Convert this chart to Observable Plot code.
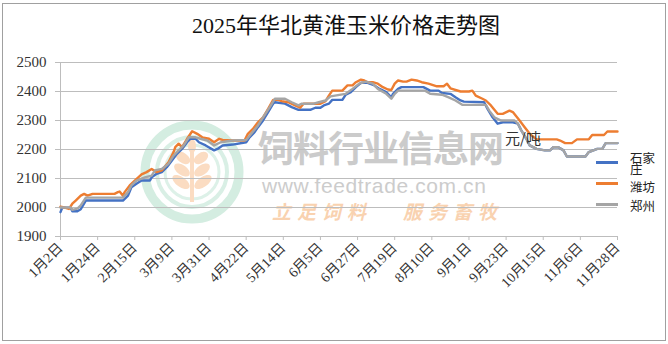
<!DOCTYPE html>
<html><head><meta charset="utf-8">
<script src="https://cdn.jsdelivr.net/npm/d3@7"></script>
<script src="https://cdn.jsdelivr.net/npm/@observablehq/plot@0.6"></script>
<style>
body{margin:0;background:#fff;}
#wrap{position:relative;width:668px;height:344px;overflow:hidden;font-family:"Liberation Serif","Noto Sans CJK SC",serif;}
#border{position:absolute;left:2px;top:3px;width:662px;height:336px;border:1px solid #a0a0a0;}
#title{position:absolute;left:12px;top:13px;width:668px;text-align:center;font-size:22px;color:#111;line-height:1.2;}
.wm{position:absolute;white-space:nowrap;line-height:1;}
#chart{position:absolute;left:0;top:0;}
#unit{position:absolute;left:505px;top:130px;font-size:15px;line-height:1;color:#333;font-family:"Noto Sans CJK SC",sans-serif;}
.leg{position:absolute;left:630px;width:28px;font-size:12.5px;line-height:11px;color:#222;font-family:"Noto Sans CJK SC",sans-serif;}
.legline{position:absolute;left:596px;width:22px;height:2.5px;}
</style></head><body>
<div id="wrap">
  <div id="border"></div>
  <svg class="wm" style="left:0;top:0" width="668" height="344">
    <g transform="translate(192,172)">
      <circle r="47" fill="none" stroke="#d4ede1" stroke-width="9"/>
      <circle r="35" fill="none" stroke="#d9efe5" stroke-width="4"/>
      <circle r="27" fill="none" stroke="#ddf1e8" stroke-width="3"/>
      <rect x="-2" y="-28" width="4" height="58" fill="#fbdcc2"/>
      <ellipse cx="-9" cy="-14" rx="8" ry="5" transform="rotate(35,-9,-14)" fill="#fbdcc2"/>
      <ellipse cx="9" cy="-14" rx="8" ry="5" transform="rotate(-35,9,-14)" fill="#fbdcc2"/>
      <ellipse cx="-10" cy="-2" rx="9" ry="5" transform="rotate(35,-10,-2)" fill="#fbdcc2"/>
      <ellipse cx="10" cy="-2" rx="9" ry="5" transform="rotate(-35,10,-2)" fill="#fbdcc2"/>
      <ellipse cx="-11" cy="10" rx="10" ry="5" transform="rotate(35,-11,10)" fill="#fbdcc2"/>
      <ellipse cx="11" cy="10" rx="10" ry="5" transform="rotate(-35,11,10)" fill="#fbdcc2"/>
      <ellipse cx="0" cy="-26" rx="4" ry="7" fill="#fbdcc2"/>
    </g>
  </svg>
  <div class="wm" style="left:258px;top:128px;font-size:36px;font-weight:bold;color:#cbcbcb;font-family:'Noto Sans CJK SC',sans-serif;letter-spacing:-1px;">饲料行业信息网</div>
  <div class="wm" style="left:262px;top:175px;font-size:21px;color:#cccccc;font-family:'Liberation Sans',sans-serif;letter-spacing:0.6px;">www.feedtrade.com.cn</div>
  <div class="wm" style="left:272px;top:201px;font-size:19px;font-weight:bold;font-style:italic;color:#f9d2b0;font-family:'Noto Sans CJK SC',sans-serif;letter-spacing:6px;">立足饲料&nbsp;&nbsp;&nbsp;服务畜牧</div>
  <div id="chart"></div>
  <div id="title">2025年华北黄淮玉米价格走势图</div>
  <div id="unit">元/吨</div>
  <div class="legline" style="top:161px;background:#4472c4"></div>
  <div class="legline" style="top:182px;background:#ed7d31"></div>
  <div class="legline" style="top:203px;background:#a5a5a5"></div>
  <div class="leg" style="top:152px">石家庄</div>
  <div class="leg" style="top:181px">潍坊</div>
  <div class="leg" style="top:200px">郑州</div>
</div>
<script>
const cities = ["石家庄", "潍坊", "郑州"];
const colors = ["#4472c4", "#ed7d31", "#a5a5a5"];
const yTicks = [1900, 2000, 2100, 2200, 2300, 2400, 2500];
const xTickLabels = ["1月2日","1月24日","2月15日","3月9日","3月31日","4月22日","5月14日","6月5日","6月27日","7月19日","8月10日","9月1日","9月23日","10月15日","11月6日","11月28日"];

const shijiazhuang = [
  ["01-02",1984],["01-03",1999],["01-08",1999],["01-09",1987],["01-12",1987],["01-14",1994],["01-17",2024],
  ["02-08",2024],["02-11",2041],["02-13",2070],["02-16",2082],["02-19",2093],["02-24",2093],["02-25",2104],
  ["02-28",2116],["03-03",2122],["03-06",2139],["03-09",2162],["03-12",2185],["03-15",2202],["03-18",2225],
  ["03-20",2237],["03-23",2237],["03-25",2225],["03-29",2214],["04-03",2197],["04-05",2202],["04-08",2214],
  ["04-14",2217],["04-22",2225],["04-24",2242],["04-27",2260],["04-29",2277],["05-02",2300],["05-05",2329],
  ["05-08",2358],["05-09",2363],["05-15",2358],["05-19",2346],["05-23",2337],["05-30",2337],["06-02",2344],
  ["06-05",2344],["06-07",2352],["06-10",2358],["06-12",2371],["06-18",2371],["06-20",2389],["06-23",2398],
  ["06-26",2415],["06-29",2430],["07-03",2430],["07-07",2421],["07-10",2409],["07-14",2398],["07-17",2380],
  ["07-18",2392],["07-21",2409],["07-23",2415],["08-05",2415],["08-09",2403],["08-14",2403],["08-16",2395],
  ["08-21",2392],["08-24",2380],["08-27",2369],["08-29",2365],["09-10",2363],["09-12",2340],["09-15",2311],
  ["09-18",2289],["09-21",2294],["09-27",2294],["09-30",2289],["10-02",2266],["10-05",2237],["10-07",2214],
  ["10-11",2202],["10-16",2197],["10-19",2197],["10-21",2208],["10-24",2208],["10-27",2197],["10-29",2176],
  ["11-09",2176],["11-11",2191],["11-16",2202],["11-19",2202],["11-21",2222],["11-28",2222]
];
const weifang = [
  ["01-02",2003],["01-05",1999],["01-07",1995],["01-09",2013],["01-11",2024],["01-14",2041],["01-16",2047],
  ["01-18",2041],["01-21",2047],["02-03",2047],["02-05",2053],["02-06",2055],["02-08",2041],["02-09",2053],
  ["02-12",2076],["02-15",2093],["02-19",2114],["02-22",2122],["02-25",2133],["02-28",2122],["03-03",2128],
  ["03-07",2156],["03-10",2191],["03-11",2208],["03-13",2220],["03-15",2208],["03-18",2237],["03-21",2263],
  ["03-24",2254],["03-27",2242],["03-31",2237],["04-03",2225],["04-06",2237],["04-08",2233],["04-14",2231],
  ["04-21",2231],["04-23",2254],["04-26",2271],["04-29",2294],["05-02",2311],["05-05",2340],["05-08",2371],
  ["05-11",2371],["05-13",2367],["05-17",2363],["05-21",2352],["05-24",2344],["05-26",2358],["06-05",2358],
  ["06-08",2367],["06-10",2386],["06-12",2403],["06-18",2403],["06-21",2421],["06-24",2421],["06-26",2432],
  ["06-29",2441],["07-01",2438],["07-03",2432],["07-06",2432],["07-09",2427],["07-12",2415],["07-15",2407],
  ["07-17",2405],["07-19",2427],["07-21",2438],["07-24",2434],["07-26",2434],["07-29",2441],["08-01",2438],
  ["08-04",2432],["08-08",2427],["08-13",2418],["08-17",2418],["08-19",2427],["08-21",2411],["08-27",2400],
  ["09-01",2400],["09-03",2403],["09-05",2386],["09-09",2375],["09-11",2369],["09-14",2352],["09-18",2323],
  ["09-21",2323],["09-25",2334],["09-27",2329],["10-01",2300],["10-04",2277],["10-07",2254],["10-11",2235],
  ["10-23",2235],["10-25",2231],["10-28",2222],["11-01",2222],["11-04",2235],["11-11",2235],["11-13",2250],
  ["11-20",2250],["11-22",2262],["11-28",2262]
];
const zhengzhou = [
  ["01-02",2000],["01-08",2000],["01-09",1992],["01-12",1996],["01-14",2007],["01-17",2034],["02-08",2034],
  ["02-11",2053],["02-13",2076],["02-16",2093],["02-21",2104],["02-25",2110],["02-27",2128],["03-03",2133],
  ["03-07",2151],["03-10",2179],["03-13",2197],["03-16",2214],["03-19",2242],["03-23",2242],["03-26",2237],
  ["03-30",2231],["04-03",2214],["04-07",2225],["04-14",2231],["04-22",2233],["04-25",2254],["04-29",2283],
  ["05-02",2311],["05-06",2346],["05-09",2375],["05-15",2375],["05-19",2363],["05-23",2352],["05-25",2358],
  ["06-01",2358],["06-04",2363],["06-08",2369],["06-11",2383],["06-18",2390],["06-20",2392],["06-24",2409],
  ["06-28",2427],["07-02",2434],["07-06",2427],["07-09",2409],["07-14",2392],["07-17",2375],["07-19",2392],
  ["07-21",2403],["08-06",2403],["08-09",2392],["08-16",2389],["08-20",2380],["08-24",2369],["08-28",2354],
  ["09-11",2354],["09-13",2334],["09-16",2311],["09-20",2300],["09-28",2300],["09-30",2289],["10-02",2266],
  ["10-05",2237],["10-07",2214],["10-11",2202],["10-16",2197],["10-19",2197],["10-21",2208],["10-24",2208],
  ["10-27",2197],["10-29",2176],["11-09",2176],["11-11",2191],["11-16",2202],["11-19",2202],["11-21",2222],
  ["11-28",2222]
];

const parse = d3.utcParse("%Y-%m-%d");
const rows = [];
[[cities[0], shijiazhuang], [cities[1], weifang], [cities[2], zhengzhou]].forEach(([city, arr]) => {
  arr.forEach(([d, v]) => rows.push({city, date: parse("2025-" + d), price: v}));
});
const xTicks = xTickLabels.map(s => {
  const [m, d] = s.match(/\d+/g).map(Number);
  return new Date(Date.UTC(2025, m - 1, d));
});
const fmt = d => `${d.getUTCMonth() + 1}月${d.getUTCDate()}日`;
const xDomain = [xTicks[0], xTicks[xTicks.length - 1]];

const chart = Plot.plot({
  width: 668, height: 344,
  marginLeft: 60, marginRight: 51, marginTop: 62, marginBottom: 108,
  style: {background: "transparent", fontFamily: "'Liberation Serif','Noto Sans CJK SC',serif", color: "#333", overflow: "visible"},
  x: {type: "utc", domain: xDomain, label: null},
  y: {domain: [1900, 2500], label: null},
  color: {domain: cities, range: colors},
  marks: [
    Plot.gridY(yTicks, {stroke: "#bdbdbd", strokeOpacity: 1, strokeWidth: 1}),
    Plot.ruleX([xDomain[0]], {stroke: "#bdbdbd", strokeWidth: 1}),
    Plot.axisY(yTicks, {label: null, tickSize: 5, tickPadding: 9, stroke: "#bdbdbd", fontSize: 15, fill: "#333", tickFormat: d => String(d)}),
    Plot.axisX(xTicks, {label: null, tickFormat: fmt, tickRotate: -45, tickSize: 4, tickPadding: 5, stroke: "#bdbdbd", fontSize: 14, fill: "#333"}),
    Plot.lineY(rows, {x: "date", y: "price", stroke: "city", strokeWidth: 2.4, strokeLinejoin: "round"})
  ]
});
document.getElementById("chart").appendChild(chart);
</script>
</body></html>
